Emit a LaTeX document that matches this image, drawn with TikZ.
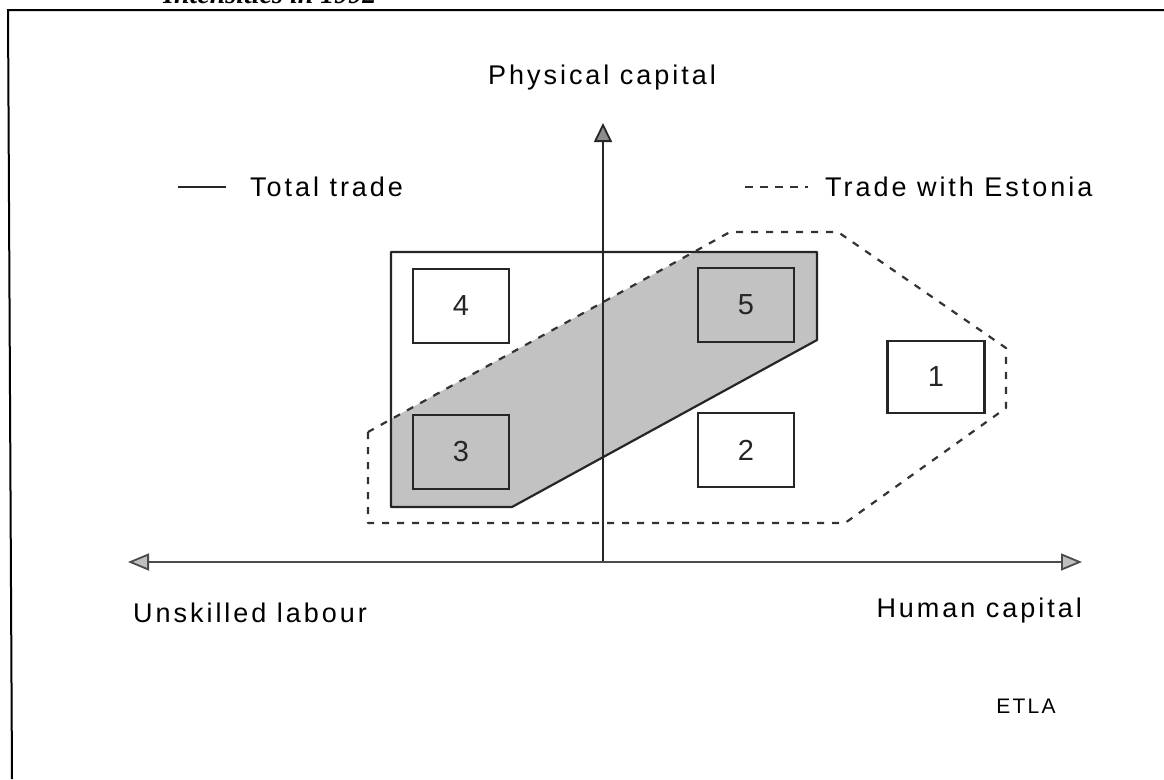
\documentclass[tikz,border=0pt]{standalone}
\usepackage{fontspec}
\setmainfont{Liberation Sans}
\newfontfamily\labfont[LetterSpace=11]{Liberation Sans}
\newfontfamily\ttlfont{Liberation Serif}
\usetikzlibrary{arrows.meta}
\tikzset{
  lab/.style={font=\labfont\fontsize{27}{30}\selectfont, inner sep=0pt},
  frame/.style={line width=2pt, black},
  axisline/.style={line width=1.8pt, black!85},
  solidpoly/.style={line width=2.2pt, black!85, line join=round},
  dashpoly/.style={line width=2.2pt, black!80, dash pattern=on 7pt off 8pt, line join=round},
  shade/.style={fill=black!24},
  numbox/.style={draw, line width=2.8pt, black!85, minimum width=96pt, minimum height=74pt, inner sep=0pt, font=\labfont\fontsize{29}{32}\selectfont}
}
\begin{document}
\begin{tikzpicture}[x=1pt, y=-1pt]
\useasboundingbox (0,0) rectangle (1164,779);
\fill[white] (0,0) rectangle (1164,779);
% cut-off title
\begin{scope}
\clip (0,0) rectangle (1164,779);
\node[anchor=base west, inner sep=0pt, font=\ttlfont\bfseries\itshape\fontsize{28}{32}\selectfont] (title) at (163,4) {Intensities in 1992};
\end{scope}
% frame
\coordinate (ftl) at (8,10);
\coordinate (ftr) at (1164,10);
\coordinate (fbl) at (12,779);
\draw[frame] (ftr) -- (ftl) -- (fbl);

% shaded overlap region
\coordinate (s1) at (391,419);
\coordinate (s2) at (391,507);
\coordinate (s3) at (512,507);
\coordinate (s4) at (817,340);
\coordinate (s5) at (817,252);
\coordinate (s6) at (694,252);
\fill[shade] (s1) -- (s2) -- (s3) -- (s4) -- (s5) -- (s6) -- cycle;

% total trade polygon
\coordinate (t1) at (391,252);
\coordinate (t2) at (817,252);
\coordinate (t3) at (817,340);
\coordinate (t4) at (512,507);
\coordinate (t5) at (391,507);
\draw[solidpoly] (t1) -- (t2) -- (t3) -- (t4) -- (t5) -- cycle;

% trade with Estonia polygon
\coordinate (e1) at (368,432);
\coordinate (e2) at (368,523);
\coordinate (e3) at (845,523);
\coordinate (e4) at (1006,408);
\coordinate (e5) at (1006,348);
\coordinate (e6) at (838,232);
\coordinate (e7) at (730,232);
\draw[dashpoly] (e1) -- (e2) -- (e3) -- (e4) -- (e5) -- (e6) -- (e7) -- cycle;

% axes
\coordinate (O) at (603,562);
\coordinate (ytip) at (603,123);
\coordinate (xleft) at (128,562);
\coordinate (xright) at (1082,562);
\draw[axisline, -{Triangle[length=19pt, width=18pt, fill=black!45]}] (O) -- (ytip);
\draw[axisline, black!70, {Triangle[length=21pt, width=17pt, fill=black!25]}-{Triangle[length=21pt, width=17pt, fill=black!25]}] (xleft) -- (xright);

% boxes
\node[numbox] (b4) at (461,306) {4};
\node[numbox] (b5) at (746,305) {5};
\node[numbox] (b3) at (461,452) {3};
\node[numbox] (b2) at (746,450) {2};
\node[numbox, minimum width=97pt, minimum height=72pt] (b1) at (936,377) {1};

% axis labels
\node[lab] (ylab) at (602,78) {Physical capital};
\node[lab, anchor=west] (ulab) at (133,613) {Unskilled labour};
\node[lab, anchor=east] (hlab) at (1082,611) {Human capital};

% legend
\coordinate (la) at (178,187);
\coordinate (lb) at (226,187);
\draw[solidpoly] (la) -- (lb);
\node[lab, anchor=west] (ltt) at (250,187) {Total trade};
\coordinate (lc) at (745,187);
\coordinate (ld) at (808,187);
\draw[line width=2pt, black!80, dash pattern=on 8pt off 7pt] (lc) -- (ld);
\node[lab, anchor=west] (lte) at (825,187) {Trade with Estonia};

% source
\node[font=\labfont\fontsize{21}{24}\selectfont, inner sep=0pt] (etla) at (1026,706) {ETLA};
\end{tikzpicture}
\end{document}
